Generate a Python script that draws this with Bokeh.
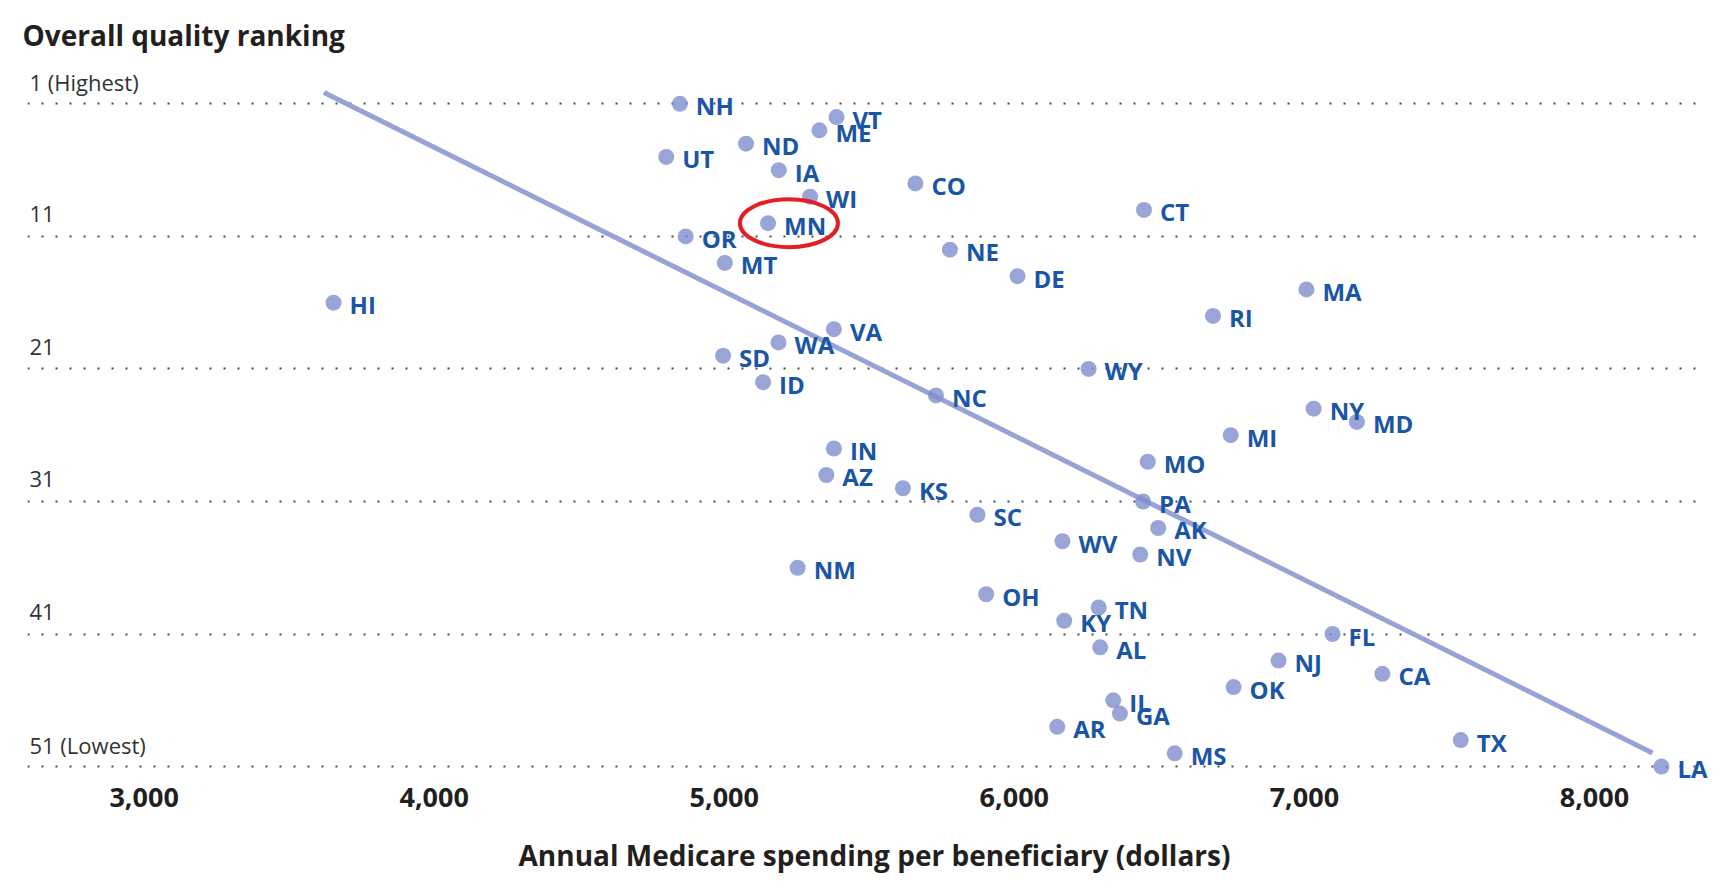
from bokeh.plotting import figure
from bokeh.models import Range1d, FixedTicker, ColumnDataSource
from bokeh.core.properties import value
from bokeh.embed import file_html
from bokeh.resources import INLINE

# ---------------- data ----------------
states = ["NH", "VT", "ME", "ND", "UT", "IA", "CO", "WI", "CT", "MN",
          "OR", "NE", "MT", "DE", "MA", "HI", "RI", "VA", "WA", "SD",
          "WY", "ID", "NC", "NY", "MD", "MI", "IN", "MO", "AZ", "KS",
          "PA", "SC", "AK", "WV", "NV", "NM", "OH", "TN", "KY", "FL",
          "AL", "NJ", "CA", "OK", "IL", "GA", "AR", "TX", "MS", "LA"]
spending = [4847, 5387, 5328, 5075, 4800, 5188, 5659, 5296, 6447, 5151,
            4867, 5778, 5002, 6011, 7007, 3653, 6685, 5378, 5187, 4996,
            6256, 5134, 5730, 7032, 7181, 6746, 5378, 6460, 5352, 5616,
            6444, 5873, 6496, 6166, 6434, 5253, 5903, 6291, 6172, 7097,
            6296, 6911, 7269, 6756, 6341, 6364, 6148, 7539, 6553, 8231]
quality_rank = [1, 2, 3, 4, 5, 6, 7, 8, 9, 10,
                11, 12, 13, 14, 15, 16, 17, 18, 19, 20,
                21, 22, 23, 24, 25, 26, 27, 28, 29, 30,
                31, 32, 33, 34, 35, 36, 38, 39, 40, 41,
                42, 43, 44, 45, 46, 47, 48, 49, 50, 51]

x_ticks = [3000, 4000, 5000, 6000, 7000, 8000]
x_tick_labels = ["3,000", "4,000", "5,000", "6,000", "7,000", "8,000"]
y_ticks = [1, 11, 21, 31, 41, 51]
y_tick_labels = ["1 (Highest)", "11", "21", "31", "41", "51 (Lowest)"]

trend_spending = [3620, 8200]
trend_rank = [0.15, 49.97]

y_title = "Overall quality ranking"
x_title = "Annual Medicare spending per beneficiary (dollars)"
highlight_state = "MN"

# view limits
x_lo, x_hi = 2598, 8438
rank_top, rank_bottom = -1.97, 51.9
grid_x_end = 8372

# ---------------- styles ----------------
FONT = "Open Sans"
DOT = "#808FCD"
LINE = "#97A3D6"
LABEL_BLUE = "#1B55A5"
DARK = "#231F20"

p = figure(width=1721, height=884,
           x_range=Range1d(x_lo, x_hi), y_range=Range1d(rank_bottom, rank_top),
           output_backend="svg", toolbar_location=None,
           min_border_left=27, min_border_right=0,
           min_border_top=64, min_border_bottom=106)
p.background_fill_color = "white"
p.border_fill_color = "white"
p.outline_line_color = None

# title (y quantity)
p.title.text = y_title
p.title.align = "left"
p.title.offset = -5
p.title.standoff = 22
p.title.text_font = FONT
p.title.text_font_style = "bold"
p.title.text_font_size = "28px"
p.title.text_color = DARK

# y axis hidden, dotted grid lines
p.yaxis.visible = False
p.xgrid.visible = False
p.ygrid.ticker = FixedTicker(ticks=y_ticks)
p.ygrid.grid_line_color = "#4a4a4a"
p.ygrid.grid_line_width = 2
p.ygrid.grid_line_dash = "2 12"
g = p.ygrid[0]
if "cross_bounds" in g.properties():
    g.cross_bounds = (x_lo, grid_x_end)

# x axis
xa = p.xaxis[0]
xa.ticker = FixedTicker(ticks=x_ticks)
xa.major_label_overrides = {t: l for t, l in zip(x_ticks, x_tick_labels)}
xa.axis_line_color = None
xa.major_tick_line_color = None
xa.minor_tick_line_color = None
xa.major_label_text_font = FONT
xa.major_label_text_font_style = "bold"
xa.major_label_text_font_size = "27px"
xa.major_label_text_color = DARK
xa.major_label_standoff = 3
xa.axis_label = x_title
xa.axis_label_text_font = FONT
xa.axis_label_text_font_style = "bold"
xa.axis_label_text_font_size = "28px"
xa.axis_label_text_color = DARK
xa.axis_label_standoff = 26

# y tick labels drawn above each grid line
ysrc = ColumnDataSource(dict(x=[x_lo] * len(y_ticks), y=y_ticks, t=y_tick_labels))
p.text(x="x", y="y", text="t", source=ysrc, x_offset=2, y_offset=-22,
       text_baseline="middle", text_align="left",
       text_font=value(FONT), text_font_size="22px", text_color="#333333")

# trend line
p.line(trend_spending, trend_rank, line_width=5, line_color=LINE, line_cap="butt")

# points and labels
src = ColumnDataSource(dict(x=spending, y=quality_rank, s=states))
p.scatter(x="x", y="y", source=src, size=16, fill_color=DOT, fill_alpha=0.8,
          line_color=None)
p.text(x="x", y="y", text="s", source=src, x_offset=16, y_offset=2,
       text_baseline="middle", text_align="left",
       text_font=value(FONT), text_font_style="bold", text_font_size="24px",
       text_color=LABEL_BLUE)

# highlight ellipse around one state
i = states.index(highlight_state)
p.ellipse(x=[spending[i] + 72], y=[quality_rank[i]], width=98, height=48,
          width_units="screen", height_units="screen",
          fill_color=None, line_color="#E31E24", line_width=4)

open("out.html", "w").write(file_html(p, INLINE))
